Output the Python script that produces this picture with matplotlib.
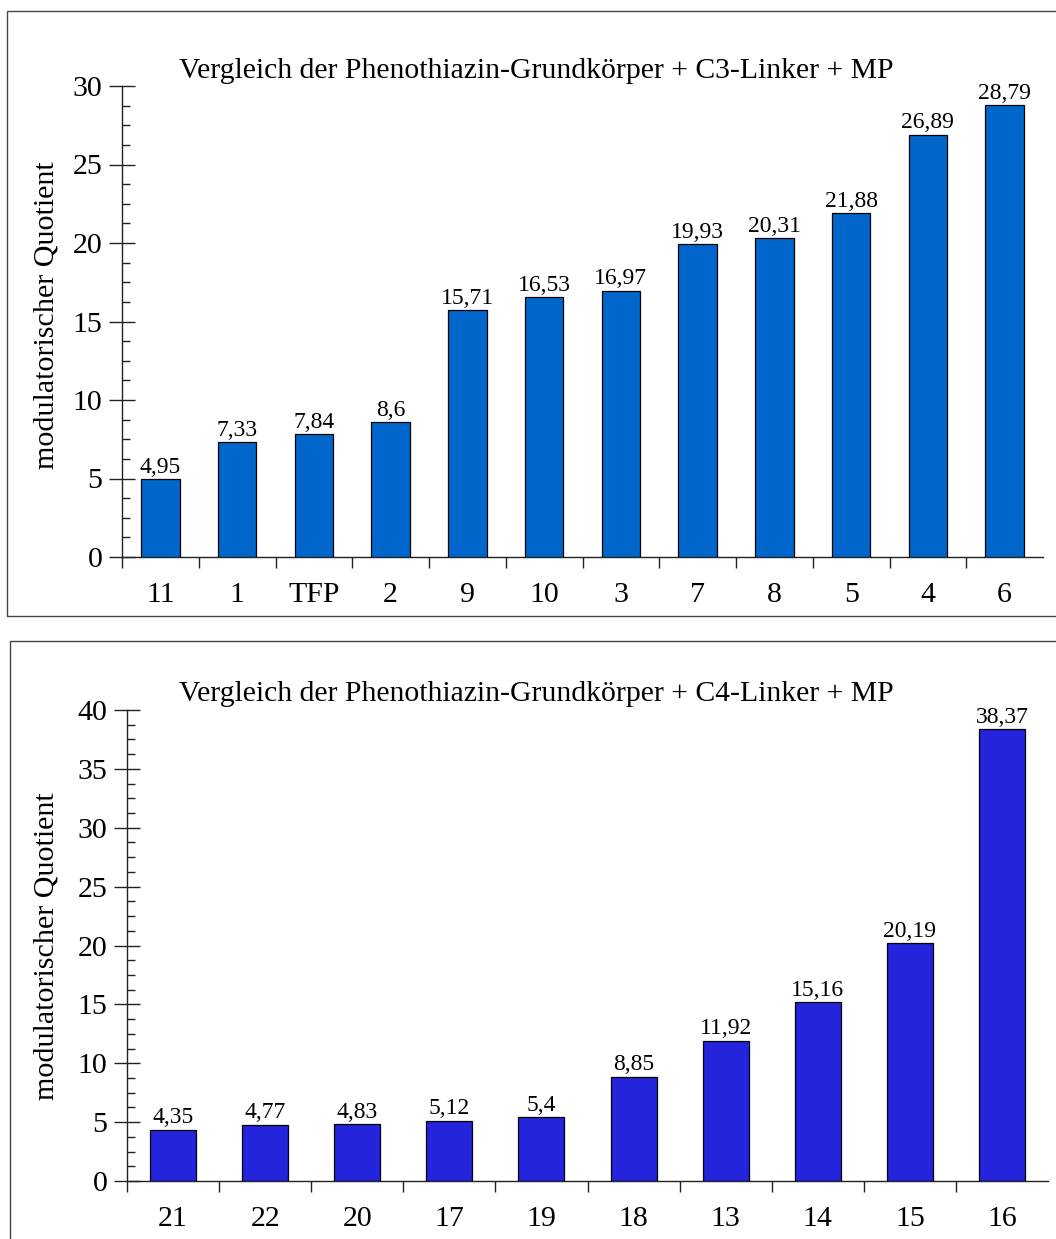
import matplotlib
matplotlib.use("Agg")
import matplotlib.pyplot as plt
from matplotlib.patches import Rectangle
from matplotlib.ticker import MultipleLocator

# Modulatory quotients, C3 linker series
c3_labels = ["11", "1", "TFP", "2", "9", "10", "3", "7", "8", "5", "4", "6"]
c3_values = [4.95, 7.33, 7.84, 8.6, 15.71, 16.53, 16.97, 19.93, 20.31, 21.88, 26.89, 28.79]

# Modulatory quotients, C4 linker series
c4_labels = ["21", "22", "20", "17", "19", "18", "13", "14", "15", "16"]
c4_values = [4.35, 4.77, 4.83, 5.12, 5.4, 8.85, 11.92, 15.16, 20.19, 38.37]

titles = ["Vergleich der Phenothiazin-Grundkörper + C3-Linker + MP",
          "Vergleich der Phenothiazin-Grundkörper + C4-Linker + MP"]
ylabel = "modulatorischer Quotient"

plt.rcParams["font.family"] = ["Liberation Serif", "DejaVu Serif"]

W, H = 1056, 1239
fig = plt.figure(figsize=(W / 100, H / 100), dpi=100)


def fx(px):
    return px / W


def fy(py):
    return 1 - py / H


def panel(frame_top, frame_bottom, frame_left, ax_box, labels, values, ymax,
          color, title, title_y, ylabel_y):
    # outer frame of the panel
    fig.patches.append(Rectangle((fx(frame_left), fy(frame_bottom)),
                                 1.2, fy(frame_top) - fy(frame_bottom),
                                 transform=fig.transFigure, fill=False,
                                 edgecolor="#444444", linewidth=1.0, zorder=0))
    l, r, t, b = ax_box
    ax = fig.add_axes([fx(l), fy(b), fx(r) - fx(l), fy(t) - fy(b)])
    n = len(values)
    x = list(range(n))
    ax.bar(x, values, width=0.5, color=color, edgecolor="black", linewidth=0.9, zorder=3)
    for xi, v in zip(x, values):
        txt = f"{v:g}".replace(".", ",")
        ax.annotate(txt, (xi, v), xytext=(0, 1.0), textcoords="offset points",
                    ha="center", va="bottom", fontsize=17)
    ax.set_xlim(-0.5, n - 0.5)
    ax.set_ylim(0, ymax)
    for s in ("top", "right"):
        ax.spines[s].set_visible(False)
    for s in ("left", "bottom"):
        ax.spines[s].set_linewidth(1.0)
        ax.spines[s].set_color("#222222")
    ax.spines["left"].set_zorder(4)
    # category boundary ticks, labels at bar centres
    ax.set_xticks([i - 0.5 for i in range(n)])
    ax.set_xticklabels([])
    ax.set_xticks(x, labels, minor=True)
    ax.tick_params(axis="x", which="major", direction="out", length=8, width=1.0,
                   color="#222222")
    ax.tick_params(axis="x", which="minor", length=0, pad=18, labelsize=21.5)
    ax.yaxis.set_major_locator(MultipleLocator(5))
    ax.yaxis.set_minor_locator(MultipleLocator(1.25))
    ax.tick_params(axis="y", which="major", direction="inout", length=19, width=1.0,
                   color="#222222", labelsize=21.5, pad=4.5)
    ax.tick_params(axis="y", which="minor", direction="in", length=6, width=1.0,
                   color="#222222")
    fig.text(fx(536), fy(title_y), title, ha="center", va="center", fontsize=21.3)
    fig.text(fx(47), fy(ylabel_y), ylabel, ha="center", va="center",
             rotation=90, fontsize=21.6)
    return ax


panel(11, 616, 7, (122, 1043, 86, 557), c3_labels, c3_values, 30,
      "#0066cc", titles[0], 71, 315)
panel(641, 1300, 10, (127, 1048, 710, 1181), c4_labels, c4_values, 40,
      "#2424dc", titles[1], 694, 946)

fig.savefig("out.png", dpi=100)
